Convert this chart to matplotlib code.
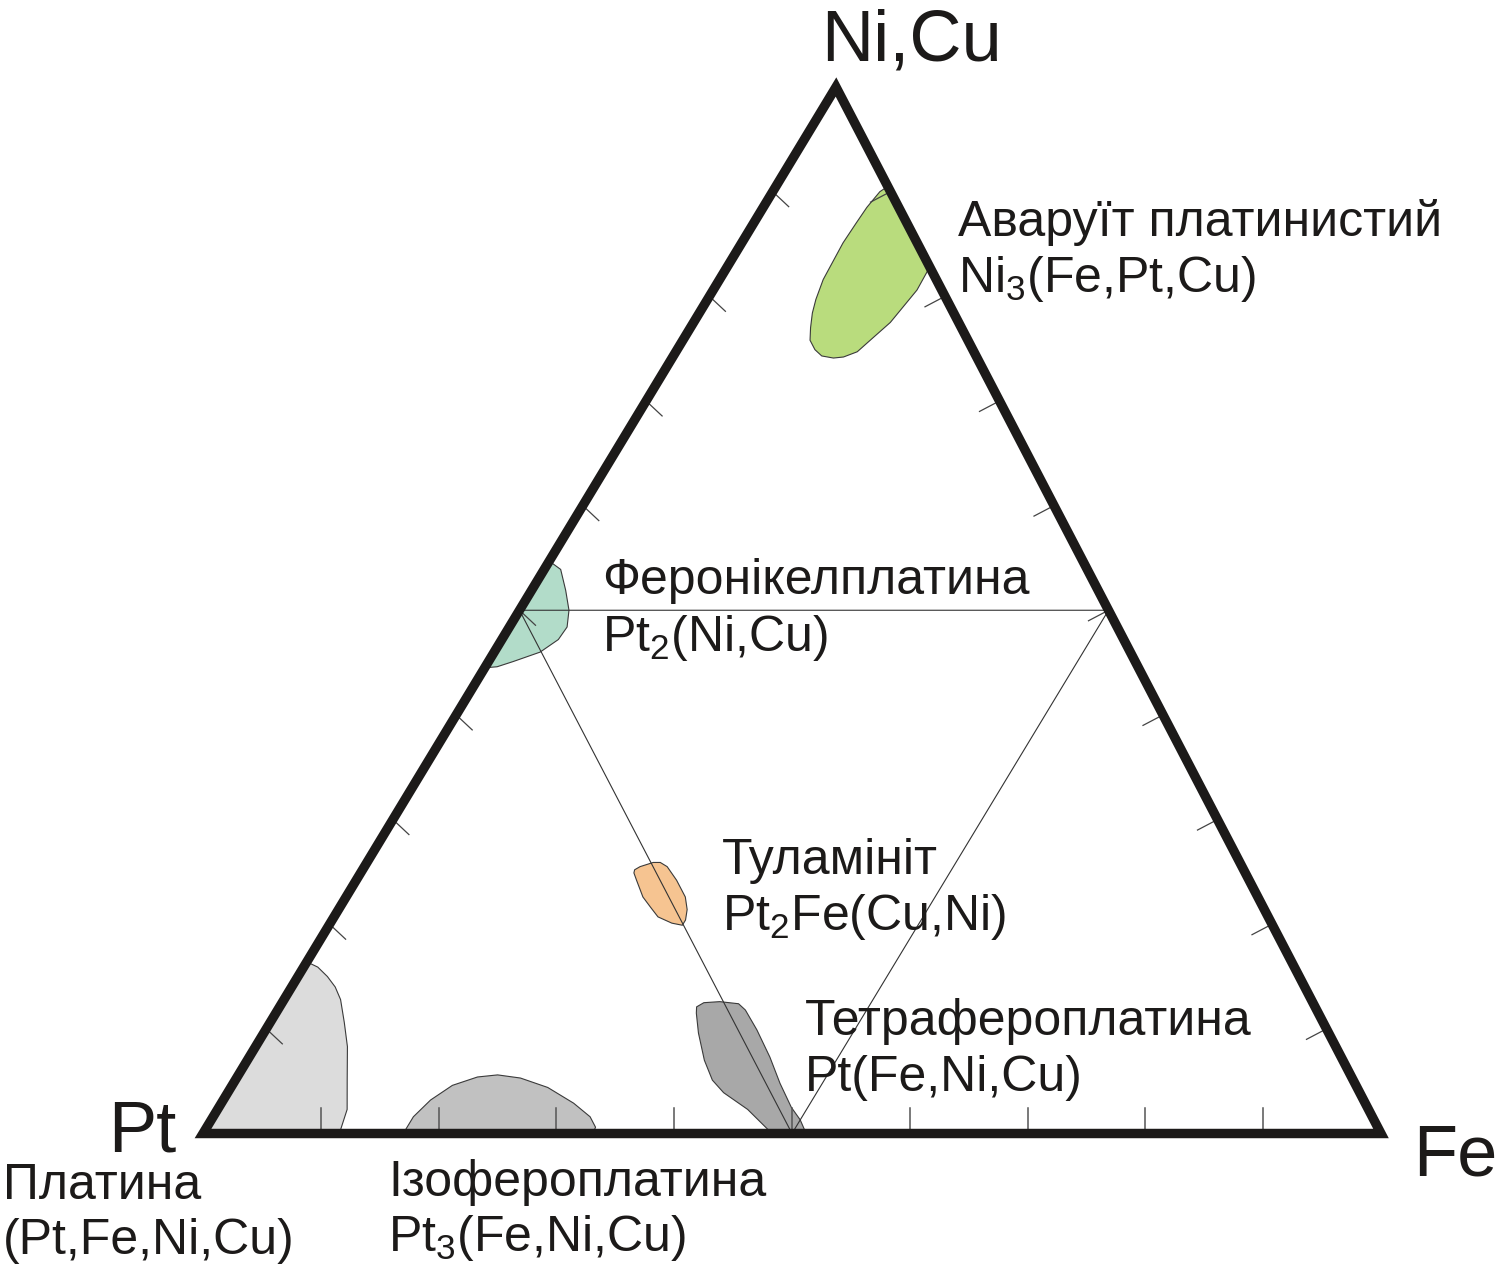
import numpy as np
import matplotlib.pyplot as plt
from matplotlib.patches import Polygon

plt.rcParams['font.family'] = ['Liberation Sans', 'DejaVu Sans']
plt.rcParams['mathtext.fontset'] = 'custom'
plt.rcParams['mathtext.rm'] = 'Liberation Sans'
plt.rcParams['mathtext.it'] = 'Liberation Sans'

# mineral fields, as (Fe, Ni+Cu) fractions; Pt = 1 - Fe - NiCu
awaruite_fe = [0.095, 0.172, 0.173, 0.167, 0.160, 0.154, 0.145, 0.137, 0.126, 0.117, 0.108, 0.102, 0.096, 0.092, 0.088, 0.086, 0.087, 0.088, 0.091]
awaruite_ni = [0.905, 0.828, 0.806, 0.775, 0.760, 0.747, 0.742, 0.741, 0.743, 0.749, 0.758, 0.770, 0.784, 0.797, 0.816, 0.851, 0.870, 0.885, 0.900]

feronick_fe = [0.000, 0.014, 0.029, 0.042, 0.049, 0.048, 0.039, 0.021, 0.010, 0.000]
feronick_ni = [0.547, 0.539, 0.519, 0.500, 0.484, 0.472, 0.460, 0.451, 0.446, 0.445]

tulam_fe = [0.231, 0.234, 0.243, 0.249, 0.257, 0.272, 0.288, 0.296, 0.300, 0.300, 0.290, 0.275, 0.264, 0.252, 0.238, 0.232]
tulam_ni = [0.252, 0.255, 0.259, 0.259, 0.255, 0.242, 0.226, 0.214, 0.204, 0.199, 0.201, 0.207, 0.216, 0.226, 0.242, 0.249]

tetra_fe = [0.354, 0.358, 0.371, 0.388, 0.397, 0.417, 0.442, 0.464, 0.486, 0.500, 0.512, 0.483, 0.450, 0.421, 0.405, 0.388, 0.369, 0.357]
tetra_ni = [0.121, 0.125, 0.126, 0.124, 0.118, 0.099, 0.073, 0.048, 0.025, 0.013, 0.000, 0.000, 0.023, 0.039, 0.051, 0.070, 0.096, 0.115]

isofer_fe = [0.170, 0.170, 0.176, 0.187, 0.204, 0.220, 0.241, 0.269, 0.299, 0.320, 0.330, 0.331]
isofer_ni = [0.000, 0.016, 0.032, 0.046, 0.054, 0.056, 0.053, 0.044, 0.029, 0.016, 0.006, 0.000]

platina_fe = [0.000, 0.000, 0.012, 0.025, 0.037, 0.048, 0.063, 0.078, 0.095, 0.110, 0.115, 0.116]
platina_ni = [0.000, 0.164, 0.159, 0.150, 0.140, 0.128, 0.106, 0.083, 0.051, 0.023, 0.003, 0.000]

field_colors = ['#b9dc7d', '#b2dcc9', '#f6c491', '#a8a8a8', '#c1c1c1', '#dcdcdc']

tick_fracs = [0.1, 0.2, 0.3, 0.4, 0.5, 0.6, 0.7, 0.8, 0.9]

# pixel positions of the corners
P_PT = np.array([203.0, 1133.5])
P_FE = np.array([1381.0, 1133.5])
P_NI = np.array([836.0, 87.0])


def tern(fe, ni):
    fe = np.asarray(fe, dtype=float)
    ni = np.asarray(ni, dtype=float)
    pt = 1 - fe - ni
    x = pt * P_PT[0] + fe * P_FE[0] + ni * P_NI[0]
    y = pt * P_PT[1] + fe * P_FE[1] + ni * P_NI[1]
    return x, y


fig = plt.figure(figsize=(14.96, 12.66), dpi=100)
ax = fig.add_axes([0, 0, 1, 1])
ax.set_xlim(0, 1496)
ax.set_ylim(1266, 0)
ax.axis('off')

fields = [(awaruite_fe, awaruite_ni), (feronick_fe, feronick_ni), (tulam_fe, tulam_ni),
          (tetra_fe, tetra_ni), (isofer_fe, isofer_ni), (platina_fe, platina_ni)]
for (fe, ni), c in zip(fields, field_colors):
    x, y = tern(fe, ni)
    ax.add_patch(Polygon(np.column_stack([x, y]), closed=True, fc=c, ec='#3a3a3a',
                         lw=0.8, joinstyle='round', zorder=2))

# inner triangle of the midpoints
mx, my = tern([0.0, 0.5, 0.5, 0.0], [0.5, 0.5, 0.0, 0.5])
ax.plot(mx, my, color='#333333', lw=0.8, zorder=3)

# ticks
for f in tick_fracs:
    x, y = tern(f, 0)
    ax.plot([x, x], [y, y - 26], color='#555555', lw=1.1, zorder=3)
    x, y = tern(0, f)
    ax.plot([x, x + 16], [y, y + 15], color='#444444', lw=0.9, zorder=3)
    x, y = tern(1 - f, f)
    ax.plot([x, x - 20], [y, y + 10.5], color='#444444', lw=0.9, zorder=3)

tx, ty = tern([0, 1, 0], [0, 0, 1])
ax.add_patch(Polygon(np.column_stack([tx, ty]), closed=True, fill=False, ec='#1c1a19',
                     lw=6.8, joinstyle='miter', zorder=4))

big = 52
ax.text(912, 60, 'Ni,Cu', fontsize=big, ha='center', va='baseline', color='#1c1a19')
ax.text(142, 1152, 'Pt', fontsize=big, ha='center', va='baseline', color='#1c1a19')
ax.text(1455, 1175, 'Fe', fontsize=big, ha='center', va='baseline', color='#1c1a19')

fs = 36
lab = dict(fontsize=fs, ha='left', va='baseline', color='#1c1a19')
ax.text(958, 236, 'Аваруїт платинистий', **lab)
ax.text(958, 292, r'Ni$_3$(Fe,Pt,Cu)', **lab)
ax.text(602, 594, 'Феронікелплатина', **lab)
ax.text(602, 651, r'Pt$_2$(Ni,Cu)', **lab)
ax.text(722, 874, 'Туламініт', **lab)
ax.text(722, 930, r'Pt$_2$Fe(Cu,Ni)', **lab)
ax.text(805, 1035, 'Тетрафероплатина', **lab)
ax.text(805, 1091, 'Pt(Fe,Ni,Cu)', **lab)
ax.text(3, 1199, 'Платина', **lab)
ax.text(3, 1254, '(Pt,Fe,Ni,Cu)', **lab)
ax.text(388, 1196, 'Ізофероплатина', **lab)
ax.text(388, 1251, r'Pt$_3$(Fe,Ni,Cu)', **lab)

fig.savefig('out.png', dpi=100)
